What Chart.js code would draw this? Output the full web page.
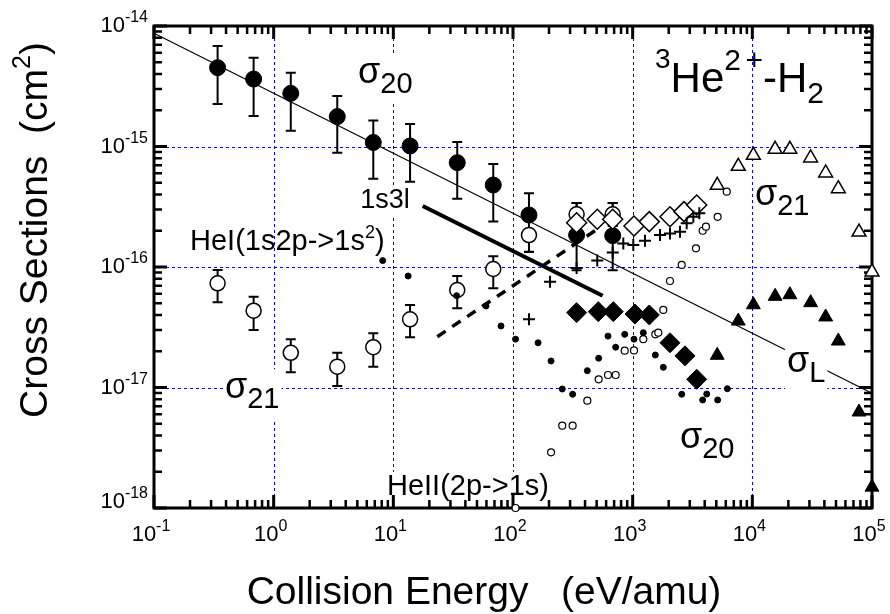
<!DOCTYPE html>
<html>
<head>
<meta charset="utf-8">
<script src="https://cdn.jsdelivr.net/npm/chart.js@4.4.1/dist/chart.umd.min.js"></script>
<style>
  html, body { margin: 0; padding: 0; background: #fff; }
</style>
</head>
<body>
<canvas id="myChart" width="890" height="614"></canvas>
<script>
// collision energies of the coincidence runs (eV/amu)
const energies = [0.34, 0.68, 1.39, 3.4, 6.8, 13.8, 34.2, 68.4, 136, 340, 681];

// double capture sigma20, filled circles
const sigma20 = [4.51e-15, 3.63e-15, 2.76e-15, 1.77e-15, 1.08e-15, 1.01e-15, 7.34e-16, 4.79e-16, 2.70e-16, 1.84e-16, 1.82e-16];
const sigma20Lo = [2.25e-15, 1.79e-15, 1.35e-15, 8.89e-16, 5.40e-16, 5.10e-16, 3.69e-16, 2.38e-16, 1.34e-16, 9.4e-17, 9.4e-17];
const sigma20Hi = [6.83e-15, 5.46e-15, 4.10e-15, 2.62e-15, 1.64e-15, 1.54e-15, 1.09e-15, 7.16e-16, 4.09e-16, 3.4e-16, 3.4e-16];

// transfer ionization sigma21, open circles
const sigma21 = [7.32e-17, 4.34e-17, 1.94e-17, 1.49e-17, 2.16e-17, 3.68e-17, 6.44e-17, 9.62e-17, 1.84e-16, 2.74e-16, 2.74e-16];
const sigma21Lo = [5.09e-17, 3.00e-17, 1.34e-17, 1.03e-17, 1.49e-17, 2.61e-17, 4.54e-17, 6.65e-17, 1.33e-16, 2.19e-16, 2.19e-16];
const sigma21Hi = [9.44e-17, 5.67e-17, 2.51e-17, 1.94e-17, 2.82e-17, 4.84e-17, 8.42e-17, 1.23e-16, 2.50e-16, 3.39e-16, 3.39e-16];

// earlier data sets
const diamondE = [340, 506, 681, 1026, 1377, 2050, 2685, 3428];
const sigma21Diamond = [2.33e-16, 2.49e-16, 2.49e-16, 2.19e-16, 2.38e-16, 2.61e-16, 2.88e-16, 3.27e-16];
const sigma20DiamondE = [340, 516, 689, 1045, 1377, 2050, 2736, 3428];
const sigma20Diamond = [4.18e-17, 4.26e-17, 4.26e-17, 4.07e-17, 4.0e-17, 2.35e-17, 1.83e-17, 1.17e-17];

const plusE = [136, 204, 340, 506, 681, 835, 1012, 1268, 1692, 2050, 2485, 2827, 3213, 3605];
const sigma21Plus = [3.68e-17, 7.55e-17, 9.81e-17, 1.13e-16, 1.32e-16, 1.57e-16, 1.52e-16, 1.65e-16, 1.84e-16, 1.90e-16, 1.96e-16, 2.31e-16, 2.61e-16, 2.79e-16];

const triE = [5090, 7630, 10200, 15500, 20600, 30700, 41000, 52300, 77900, 100000];
const sigma21Tri = [4.76e-16, 6.85e-16, 8.45e-16, 9.48e-16, 9.48e-16, 8.03e-16, 6.03e-16, 4.47e-16, 1.95e-16, 9.09e-17];
const sigma20Tri = [1.85e-17, 3.56e-17, 4.86e-17, 5.71e-17, 5.89e-17, 5.06e-17, 3.85e-17, 2.43e-17, 6.26e-18, 1.49e-18];

// photon emission cross sections
const heIE = [8.15, 13.3, 33.8, 59.5, 79.4, 105, 162, 208, 258, 315, 418, 520, 622, 721, 858, 1026, 1227, 1546, 1803, 2570, 3846, 4160, 5130, 6180];
const heIEmission = [1.13e-16, 8.42e-17, 5.78e-17, 4.75e-17, 3.24e-17, 2.52e-17, 2.35e-17, 1.66e-17, 9.72e-18, 8.79e-18, 1.38e-17, 1.75e-17, 2.67e-17, 2.16e-17, 2.76e-17, 2.52e-17, 2.85e-17, 1.86e-17, 1.47e-17, 8.79e-18, 7.88e-18, 8.83e-18, 7.88e-18, 9.77e-18];
const heIIE = [105, 208, 258, 315, 418, 520, 622, 721, 858, 1026, 1227, 1546, 1637, 1803, 2050, 2570, 3380, 3846, 4100, 5130, 6110];
const heIIEmission = [1.0e-18, 2.90e-18, 4.82e-18, 4.82e-18, 7.77e-18, 1.17e-17, 1.27e-17, 1.27e-17, 2.02e-17, 2.03e-17, 2.52e-17, 2.76e-17, 2.85e-17, 4.40e-17, 7.65e-17, 1.04e-16, 1.43e-16, 2.0e-16, 2.16e-16, 2.61e-16, 4.22e-16];

// Langevin line and calculations
const langevinE = [0.1, 1e5];
const sigmaL = [8.7e-15, 8.95e-18];
const calc1s3lE = [17.6, 561];
const calc1s3l = [3.21e-16, 5.78e-17];
const calcDashE = [23.3, 513];
const calcDash = [2.64e-17, 2.08e-16];

// axis decades
const xDecades = [-1, 0, 1, 2, 3, 4, 5];
const yDecades = [-18, -17, -16, -15, -14];

const FONT = '"Liberation Sans", Arial, sans-serif';

// text notes inside the frame: [text, size, rise]
const notes = [
  { at: [5.07, 3.37e-15], parts: [['σ', 36, 0], ['20', 29, -10]], box: true },
  { at: [5.3, 3.09e-16], parts: [['1s3l', 27, 0]], box: true },
  { at: [0.2, 1.38e-16], parts: [['HeI(1s2p->1s', 29, 0], ['2', 18, 12], [')', 29, 0]] },
  { at: [0.392, 8.18e-18], parts: [['σ', 36, 0], ['21', 29, -10]], box: true },
  { at: [2485, 3.15e-18], parts: [['σ', 36, 0], ['20', 29, -10]] },
  { at: [10520, 3.27e-16], parts: [['σ', 36, 0], ['21', 29, -10]] },
  { at: [19500, 1.34e-17], parts: [['σ', 36, 0], ['L', 29, -10]], box: true, over: true },
  { at: [8.85, 1.28e-18], parts: [['HeII(2p->1s)', 29, 0]], box: true },
  { at: [1538, 2.83e-15], parts: [['3', 28, 24], ['He', 42, 0], ['2', 30, 22], [' ', 16, 0], ['+', 30, 22], ['-H', 42, 0], ['2', 30, -11]] },
];

const zip = (xs, ys) => xs.map((x, i) => ({ x, y: ys[i] }));

function drawRich(ctx, parts, x, y, align) {
  let w = 0;
  parts.forEach(([t, s]) => {
    ctx.font = `${s}px ${FONT}`;
    w += ctx.measureText(t).width;
  });
  let cx = align === 'right' ? x - w : align === 'center' ? x - w / 2 : x;
  parts.forEach(([t, s, rise]) => {
    ctx.font = `${s}px ${FONT}`;
    ctx.fillText(t, cx, y - (rise || 0));
    cx += ctx.measureText(t).width;
  });
  return w;
}

function noteBox(ctx, note, x, y) {
  let w = 0;
  note.parts.forEach(([t, s]) => {
    ctx.font = `${s}px ${FONT}`;
    w += ctx.measureText(t).width;
  });
  const main = note.parts[0][1];
  const drop = Math.max(0, ...note.parts.map((p) => -p[2]));
  return { x: x - 2, y: y - main * 0.8, w: w + 4, h: main * 0.8 + drop + main * 0.3 };
}

function drawNotes(chart, over) {
  const { ctx, scales: { x, y } } = chart;
  ctx.save();
  ctx.fillStyle = '#000';
  ctx.textBaseline = 'alphabetic';
  notes.forEach((n) => {
    const px = x.getPixelForValue(n.at[0]);
    const py = y.getPixelForValue(n.at[1]);
    if (n.box && !!n.over === over) {
      const b = noteBox(ctx, n, px, py);
      ctx.fillStyle = '#fff';
      ctx.fillRect(b.x, b.y, b.w, b.h);
      ctx.fillStyle = '#000';
    }
  });
  if (over) {
    notes.forEach((n) => {
      drawRich(ctx, n.parts, x.getPixelForValue(n.at[0]), y.getPixelForValue(n.at[1]));
    });
  }
  ctx.restore();
}

const framePlugin = {
  id: 'frame',
  beforeDatasetsDraw(chart) {
    const { ctx, chartArea: a, scales: { x, y } } = chart;
    ctx.save();
    // dotted decade grid
    ctx.strokeStyle = '#0000ff';
    ctx.lineWidth = 1;
    ctx.setLineDash([3, 3]);
    ctx.beginPath();
    xDecades.slice(1, -1).forEach((d) => {
      const px = Math.round(x.getPixelForValue(10 ** d)) + 0.5;
      ctx.moveTo(px, a.top);
      ctx.lineTo(px, a.bottom);
    });
    yDecades.slice(1, -1).forEach((d) => {
      const py = Math.round(y.getPixelForValue(10 ** d)) + 0.5;
      ctx.moveTo(a.left, py);
      ctx.lineTo(a.right, py);
    });
    ctx.stroke();
    ctx.setLineDash([]);
    ctx.restore();

    drawNotes(chart, false);

    ctx.save();
    // inward ticks on all four sides
    ctx.strokeStyle = '#000';
    const tick = (major) => {
      ctx.lineWidth = major ? 3 : 2.5;
      return major ? 13 : 8;
    };
    xDecades.forEach((d, i) => {
      for (let k = 1; k <= 9; k++) {
        if (k > 1 && i === xDecades.length - 1) break;
        const px = x.getPixelForValue(k * 10 ** d);
        const len = tick(k === 1);
        ctx.beginPath();
        ctx.moveTo(px, a.bottom); ctx.lineTo(px, a.bottom - len);
        ctx.moveTo(px, a.top); ctx.lineTo(px, a.top + len);
        ctx.stroke();
      }
    });
    yDecades.forEach((d, i) => {
      for (let k = 1; k <= 9; k++) {
        if (k > 1 && i === yDecades.length - 1) break;
        const py = y.getPixelForValue(k * 10 ** d);
        const len = tick(k === 1);
        ctx.beginPath();
        ctx.moveTo(a.left, py); ctx.lineTo(a.left + len, py);
        ctx.moveTo(a.right, py); ctx.lineTo(a.right - len, py);
        ctx.stroke();
      }
    });
    ctx.lineWidth = 3;
    ctx.strokeRect(a.left, a.top, a.right - a.left, a.bottom - a.top);

    // error bars
    chart.data.datasets.forEach((ds) => {
      if (!ds.errLo) return;
      ctx.lineWidth = 2;
      ds.data.forEach((p, j) => {
        const px = x.getPixelForValue(p.x);
        const top = y.getPixelForValue(ds.errHi[j]);
        const bot = y.getPixelForValue(ds.errLo[j]);
        ctx.beginPath();
        ctx.moveTo(px, top); ctx.lineTo(px, bot);
        ctx.moveTo(px - 5, top); ctx.lineTo(px + 5, top);
        ctx.moveTo(px - 5, bot); ctx.lineTo(px + 5, bot);
        ctx.stroke();
      });
    });
    ctx.restore();
  },
  afterDatasetsDraw(chart) {
    drawNotes(chart, true);
  },
  afterDraw(chart) {
    const { ctx, chartArea: a, scales: { x, y } } = chart;
    ctx.save();
    ctx.fillStyle = '#000';
    xDecades.forEach((d) => {
      const px = x.getPixelForValue(10 ** d);
      drawRich(ctx, [['10', 22, 0], [String(d), 16, 10]], px - 3, 541, 'center');
    });
    yDecades.forEach((d) => {
      const py = y.getPixelForValue(10 ** d);
      drawRich(ctx, [['10', 22, 0], [String(d), 16, 10]], 148, Math.min(py + 6, a.bottom), 'right');
    });
    drawRich(ctx, [['Collision Energy   (eV/amu)', 39, 0]], 484, 604, 'center');
    ctx.translate(47, 230);
    ctx.rotate(-Math.PI / 2);
    drawRich(ctx, [['Cross Sections  (cm', 39, 0], ['2', 25, 17], [')', 39, 0]], 0, 0, 'center');
    ctx.restore();
  },
};

const scatter = (label, xs, ys, style) => ({
  label,
  data: zip(xs, ys),
  clip: false,
  showLine: false,
  ...style,
});

const line = (label, xs, ys, style) => ({
  label,
  data: zip(xs, ys),
  clip: false,
  showLine: true,
  pointRadius: 0,
  borderColor: '#000',
  ...style,
});

const datasets = [
  line('sigma L', langevinE, sigmaL, { borderWidth: 1.2 }),
  line('1s3l', calc1s3lE, calc1s3l, { borderWidth: 4 }),
  line('calc', calcDashE, calcDash, { borderWidth: 3.5, borderDash: [10, 8] }),
  scatter('sigma21', energies, sigma21, {
    pointStyle: 'circle', pointRadius: 7.5, backgroundColor: '#fff', borderColor: '#000', borderWidth: 1.5,
    errLo: sigma21Lo, errHi: sigma21Hi,
  }),
  scatter('sigma20', energies, sigma20, {
    pointStyle: 'circle', pointRadius: 8, backgroundColor: '#000', borderColor: '#000', borderWidth: 1,
    errLo: sigma20Lo, errHi: sigma20Hi,
  }),
  scatter('sigma21 diamond', diamondE, sigma21Diamond, {
    pointStyle: 'rectRot', pointRadius: 10, backgroundColor: '#fff', borderColor: '#000', borderWidth: 1.5,
  }),
  scatter('sigma20 diamond', sigma20DiamondE, sigma20Diamond, {
    pointStyle: 'rectRot', pointRadius: 10, backgroundColor: '#000', borderColor: '#000', borderWidth: 1,
  }),
  scatter('sigma21 plus', plusE, sigma21Plus, {
    pointStyle: 'cross', pointRadius: 6, borderColor: '#000', borderWidth: 2,
  }),
  scatter('sigma21 triangle', triE, sigma21Tri, {
    pointStyle: 'triangle', pointRadius: 8, backgroundColor: '#fff', borderColor: '#000', borderWidth: 1.5,
  }),
  scatter('sigma20 triangle', triE, sigma20Tri, {
    pointStyle: 'triangle', pointRadius: 8, backgroundColor: '#000', borderColor: '#000', borderWidth: 1,
  }),
  scatter('HeII(2p->1s)', heIIE, heIIEmission, {
    pointStyle: 'circle', pointRadius: 3.5, backgroundColor: '#fff', borderColor: '#000', borderWidth: 1.2,
  }),
  scatter('HeI(1s2p->1s2)', heIE, heIEmission, {
    pointStyle: 'circle', pointRadius: 3, backgroundColor: '#000', borderColor: '#000', borderWidth: 1,
  }),
];
// later entries are drawn on top
datasets.forEach((ds, i) => { ds.order = datasets.length - i; });

new Chart(document.getElementById('myChart'), {
  type: 'scatter',
  data: { datasets },
  options: {
    responsive: false,
    animation: false,
    events: [],
    layout: { padding: { left: 154, right: 18, top: 26, bottom: 106 } },
    plugins: { legend: { display: false }, tooltip: { enabled: false } },
    scales: {
      x: { type: 'logarithmic', min: 0.1, max: 1e5, display: false },
      y: { type: 'logarithmic', min: 1e-18, max: 1e-14, display: false },
    },
  },
  plugins: [framePlugin],
});
</script>
</body>
</html>
